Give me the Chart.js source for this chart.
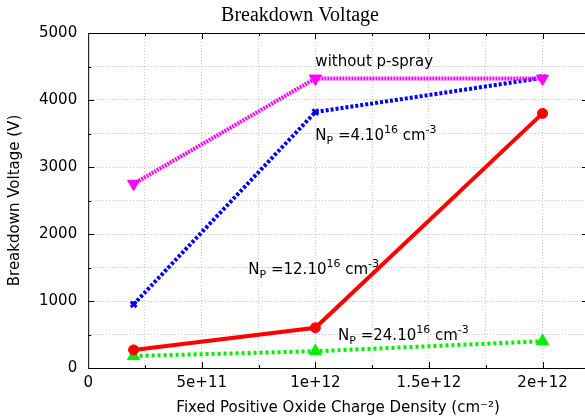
<!DOCTYPE html>
<html>
<head>
<meta charset="utf-8">
<script src="https://cdn.jsdelivr.net/npm/chart.js@4/dist/chart.umd.min.js"></script>
<style>
  html, body { margin: 0; padding: 0; background: #fff; overflow: hidden; }
  /* the original frame runs just past the right edge of the picture */
  #wrap { width: 594px; height: 417px; }
  canvas { display: block; }
</style>
</head>
<body>
<div id="wrap"><canvas id="myChart"></canvas></div>
<script>
// fixed positive oxide charge density (cm^-2)
const charge = [2e11, 1e12, 2e12]

// breakdown voltage (V)
const withoutSpray = [2750, 4320, 4320]
const np4 = [950, 3820, 4330]
const np12 = [270, 600, 3800]
const np24 = [180, 250, 400]

// labelled x ticks, every 5e11
const xTickLabels = ['0', '5e+11', '1e+12', '1.5e+12', '2e+12']

// text labels placed in data coordinates: [x, y, parts]
const notes = [
  [1e12, 4560, [{ t: 'without p-spray' }]],
  [1e12, 3460, [{ t: 'N' }, { t: 'P', sub: true }, { t: ' =4.10' }, { t: '16', sup: true }, { t: ' cm' }, { t: '-3', sup: true }]],
  [7.05e11, 1460, [{ t: 'N' }, { t: 'P', sub: true }, { t: ' =12.10' }, { t: '16', sup: true }, { t: ' cm' }, { t: '-3', sup: true }]],
  [1.1e12, 480, [{ t: 'N' }, { t: 'P', sub: true }, { t: ' =24.10' }, { t: '16', sup: true }, { t: ' cm' }, { t: '-3', sup: true }]]
]

const FONT = '"DejaVu Sans", Arial, sans-serif'
const X_STEP = 2.5e11

function pts(ys) {
  return ys.map((y, i) => ({ x: charge[i], y: y }))
}

function xLabel(v) {
  const k = v / 5e11
  const r = Math.round(k)
  if (Math.abs(k - r) > 1e-6) return ''
  return xTickLabels[r] !== undefined ? xTickLabels[r] : ''
}

function drawRich(ctx, x, y, parts) {
  let cx = x
  parts.forEach(p => {
    const small = p.sub || p.sup
    ctx.font = (small ? 11 : 15) + 'px ' + FONT
    const dy = p.sub ? 5 : (p.sup ? -6 : 0)
    ctx.fillText(p.t, cx, y + dy)
    cx += ctx.measureText(p.t).width
  })
}

const framePlugin = {
  id: 'frame',
  afterDraw(chart) {
    const ctx = chart.ctx
    const a = chart.chartArea
    const xs = chart.scales.x
    const ys = chart.scales.y
    ctx.save()
    ctx.strokeStyle = '#000'
    ctx.lineWidth = 1
    ctx.strokeRect(a.left + 0.5, a.top + 0.5, a.right - a.left - 1, a.bottom - a.top)
    // inward ticks like the original plot
    ctx.beginPath()
    xs.ticks.forEach(t => {
      if (t.value <= xs.min || t.value >= xs.max) return
      const px = Math.round(xs.getPixelForValue(t.value)) + 0.5
      const len = xLabel(t.value) !== '' ? 6 : 3
      ctx.moveTo(px, a.bottom); ctx.lineTo(px, a.bottom - len)
      ctx.moveTo(px, a.top); ctx.lineTo(px, a.top + len)
    })
    ys.ticks.forEach(t => {
      if (t.value <= ys.min || t.value >= ys.max) return
      const py = Math.round(ys.getPixelForValue(t.value)) + 0.5
      const len = t.value % 1000 === 0 ? 6 : 3
      ctx.moveTo(a.left, py); ctx.lineTo(a.left + len, py)
      ctx.moveTo(a.right, py); ctx.lineTo(a.right - len, py)
    })
    ctx.stroke()
    ctx.fillStyle = '#000'
    ctx.textBaseline = 'middle'
    notes.forEach(n => {
      drawRich(ctx, xs.getPixelForValue(n[0]), ys.getPixelForValue(n[1]), n[2])
    })
    ctx.restore()
  }
}

const data = {
  datasets: [{
    label: 'without p-spray',
    data: pts(withoutSpray),
    borderColor: '#ff00ff',
    backgroundColor: '#ff00ff',
    borderWidth: 4,
    borderDash: [2, 1],
    pointStyle: 'triangle',
    rotation: 180,
    pointRadius: 7,
    pointBorderWidth: 1
  }, {
    label: 'Np = 4e16',
    data: pts(np4),
    borderColor: '#0000ff',
    backgroundColor: '#0000ff',
    borderWidth: 4,
    borderDash: [3, 2],
    pointStyle: 'crossRot',
    pointRadius: 4,
    pointBorderWidth: 3
  }, {
    label: 'Np = 12e16',
    data: pts(np12),
    borderColor: '#ff0000',
    backgroundColor: '#ff0000',
    borderWidth: 4,
    pointStyle: 'circle',
    pointRadius: 5,
    pointBorderWidth: 1
  }, {
    label: 'Np = 24e16',
    data: pts(np24),
    borderColor: '#00ee00',
    backgroundColor: '#00ee00',
    borderWidth: 4,
    borderDash: [3, 3],
    pointStyle: 'triangle',
    pointRadius: 7,
    pointBorderWidth: 1
  }]
}

const config = {
  type: 'line',
  data: data,
  plugins: [framePlugin],
  options: {
    responsive: true,
    maintainAspectRatio: false,
    animation: false,
    layout: { autoPadding: false, padding: { left: 6, right: 0, top: 0, bottom: 0 } },
    plugins: {
      legend: { display: false },
      tooltip: { enabled: false },
      title: {
        display: true,
        text: 'Breakdown Voltage',
        color: '#000',
        font: { family: '"Liberation Serif", "Times New Roman", serif', size: 20, weight: 'normal' },
        padding: { top: 4, bottom: 5 }
      }
    },
    scales: {
      x: {
        type: 'linear',
        min: 0,
        max: 2.2e12,
        border: { display: false, dash: [1, 2] },
        grid: { color: '#c8c8c8', drawTicks: false },
        afterBuildTicks: scale => {
          const ticks = []
          for (let i = 0; i * X_STEP <= scale.max + 1; i++) ticks.push({ value: i * X_STEP })
          ticks.push({ value: scale.max })
          scale.ticks = ticks
        },
        ticks: {
          autoSkip: false,
          maxRotation: 0,
          padding: 6,
          color: '#000',
          font: { family: FONT, size: 15 },
          callback: v => xLabel(v)
        },
        title: {
          display: true,
          text: 'Fixed Positive Oxide Charge Density (cm⁻²)',
          color: '#000',
          font: { family: FONT, size: 15 },
          padding: { top: 1, bottom: 0 }
        }
      },
      y: {
        min: 0,
        max: 5000,
        border: { display: false, dash: [1, 2] },
        grid: { color: '#c8c8c8', drawTicks: false },
        ticks: {
          stepSize: 500,
          padding: 11,
          color: '#000',
          font: { family: FONT, size: 15 },
          callback: v => v % 1000 === 0 ? String(v) : ''
        },
        title: {
          display: true,
          text: 'Breakdown Voltage (V)',
          color: '#000',
          font: { family: FONT, size: 15 },
          padding: { top: 0, bottom: 4 }
        }
      }
    }
  }
}

const myChart = new Chart(document.getElementById('myChart'), config)
</script>
</body>
</html>
